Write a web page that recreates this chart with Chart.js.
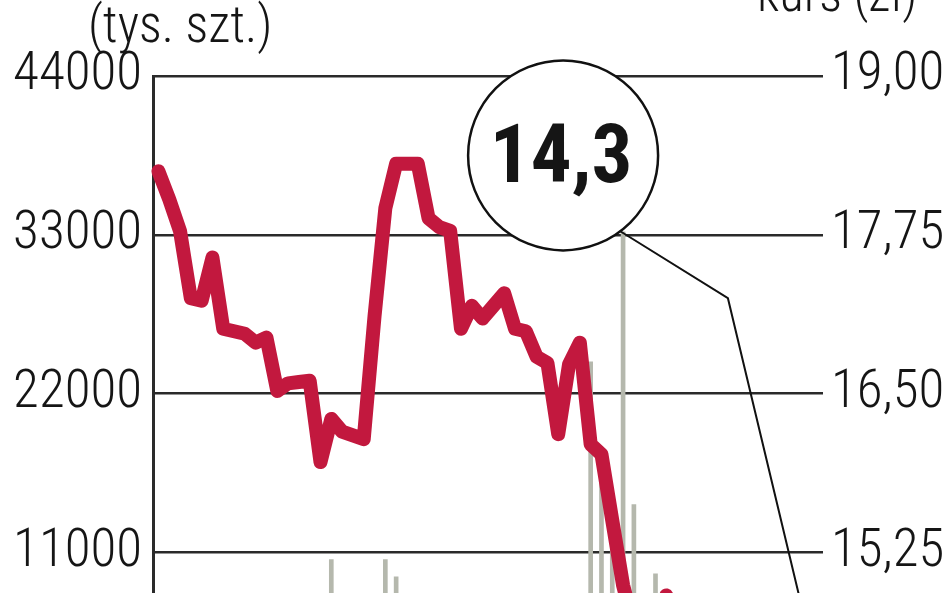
<!DOCTYPE html>
<html>
<head>
<meta charset="utf-8">
<script src="https://cdn.jsdelivr.net/npm/chart.js@4"></script>
<style>
html,body{margin:0;padding:0;background:#fff;overflow:hidden;width:948px;height:593px;}
#wrap{position:absolute;left:0;top:0;width:948px;height:760px;}
</style>
</head>
<body>
<div id="wrap"><canvas id="c" width="948" height="760"></canvas></div>
<script>
// ---- data ----
const sessions = Array.from({length: 62}, (_, i) => String(i + 1));
const kurs = [
  18.25, 18.03, 17.78, 17.25, 17.23, 17.57, 17.01, 16.99, 16.97, 16.90,
  16.94, 16.52, 16.58, 16.59, 16.60, 15.96, 16.30, 16.20, 16.17, 16.14,
  17.11, 17.96, 18.31, 18.31, 18.31, 17.88, 17.81, 17.78, 17.01, 17.19,
  17.09, 17.19, 17.29, 17.01, 16.99, 16.79, 16.74, 16.18, 16.73, 16.90,
  16.10, 16.02, 15.50, 14.99, 14.66, 14.46, 14.54, 14.91, 14.70, 14.62,
  14.68, 14.55, 14.50, 14.58, 14.45, 14.40, 14.48, 14.42, 14.35, 14.38,
  14.32, 14.30
];
const wolumen = [
  3200, 2800, 4100, 3500, 2900, 3600, 3000, 2700, 3300, 2500,
  3100, 3800, 2600, 3400, 2900, 4500, 10500, 5200, 4300, 3900,
  6100, 10500, 9300, 5800, 4700, 3600, 3900, 4200, 5100, 3700,
  3300, 4000, 3500, 4400, 3800, 4100, 5000, 6200, 5500, 7000,
  24200, 17700, 14800, 33200, 14300, 6500, 9500, 7200, 6000, 5400,
  4800, 5100, 4300, 3900, 4600, 4100, 3700, 4200, 3500, 3800,
  3300, 3600
];
const volTicks = [0, 11000, 22000, 33000, 44000];
const priceTicks = [14, 15.25, 16.5, 17.75, 19];
const leftTitle = '(tys. szt.)';
const rightTitle = 'kurs (zł)';
const calloutText = '14,3';

const FONT = '"Roboto Condensed", "Liberation Sans Narrow", "DejaVu Sans Condensed", sans-serif';
const INK = '#151515';
const RED = '#c2183e';

const calloutPlugin = {
  id: 'callout',
  afterDatasetsDraw(chart) {
    const ctx = chart.ctx;
    const xs = chart.scales.x, ps = chart.scales.price;
    const n = kurs.length - 1;
    const endX = xs.getPixelForValue(n), endY = ps.getPixelForValue(kurs[n]);
    const cx = xs.getPixelForValue(37.45), cy = ps.getPixelForValue(18.375);
    const r = 95;
    const ex = xs.getPixelForValue(52.7), ey = ps.getPixelForValue(17.25);
    const a = 53 * Math.PI / 180;
    ctx.save();
    ctx.strokeStyle = '#111';
    ctx.lineWidth = 2;
    ctx.beginPath();
    ctx.moveTo(cx + r * Math.cos(a), cy + r * Math.sin(a));
    ctx.lineTo(ex, ey);
    ctx.lineTo(endX, endY);
    ctx.stroke();
    ctx.beginPath();
    ctx.arc(cx, cy, r, 0, Math.PI * 2);
    ctx.fillStyle = '#fff';
    ctx.fill();
    ctx.lineWidth = 2.5;
    ctx.stroke();
    ctx.fillStyle = '#151515';
    ctx.font = 'bold 81px ' + FONT;
    ctx.textAlign = 'center';
    ctx.textBaseline = 'alphabetic';
    ctx.fillText(calloutText, cx - 2, cy + 27);
    ctx.restore();
  },
  afterDraw(chart) {
    const ctx = chart.ctx;
    ctx.save();
    ctx.fillStyle = INK;
    ctx.font = '300 51px ' + FONT;
    ctx.textAlign = 'left';
    ctx.textBaseline = 'alphabetic';
    ctx.fillText(leftTitle, 88, 42);
    ctx.fillText(rightTitle, 757, 11);
    ctx.restore();
  }
};

new Chart(document.getElementById('c'), {
  data: {
    labels: sessions,
    datasets: [
      {
        type: 'line',
        label: 'kurs',
        data: kurs,
        yAxisID: 'price',
        borderColor: RED,
        borderWidth: 14,
        borderJoinStyle: 'round',
        borderCapStyle: 'round',
        pointRadius: 0,
        tension: 0,
        order: 1
      },
      {
        type: 'bar',
        label: 'wolumen',
        data: wolumen,
        yAxisID: 'vol',
        backgroundColor: '#b5b8ad',
        barThickness: 4,
        order: 2
      }
    ]
  },
  options: {
    responsive: false,
    animation: false,
    devicePixelRatio: 1,
    layout: {padding: {top: 76, bottom: 49, left: 0, right: 0}},
    plugins: {legend: {display: false}, tooltip: {enabled: false}, title: {display: false}},
    scales: {
      x: {type: 'category', display: false, offset: true, grid: {display: false}},
      vol: {
        position: 'left',
        min: 0, max: 44000,
        afterBuildTicks: s => { s.ticks = volTicks.map(v => ({value: v})); },
        afterFit: s => { s.width = 153; },
        grid: {color: '#2a2a2a', lineWidth: 2.5, drawTicks: false},
        border: {display: true, color: '#2a2a2a', width: 3},
        ticks: {color: INK, padding: 11, font: {family: FONT, size: 53, weight: 300}, callback: v => String(v)}
      },
      price: {
        position: 'right',
        min: 14, max: 19,
        afterBuildTicks: s => { s.ticks = priceTicks.map(v => ({value: v})); },
        afterFit: s => { s.width = 125; },
        grid: {display: false, drawTicks: false},
        border: {display: false},
        ticks: {color: INK, padding: 8, font: {family: FONT, size: 53, weight: 300}, callback: v => Number(v).toFixed(2).replace('.', ',')}
      }
    }
  },
  plugins: [calloutPlugin]
});
</script>
</body>
</html>
